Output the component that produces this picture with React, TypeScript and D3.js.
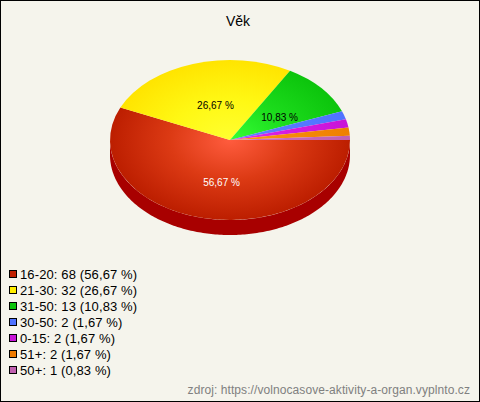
import React, { useRef, useEffect } from "react";
import * as d3 from "d3";

const title = "Věk";
const source = "zdroj: https://volnocasove-aktivity-a-organ.vyplnto.cz";
const categories = ["16-20", "21-30", "31-50", "30-50", "0-15", "51+", "50+"];
const counts = [68, 32, 13, 2, 2, 2, 1];
const percents = ["56,67 %", "26,67 %", "10,83 %", "1,67 %", "1,67 %", "1,67 %", "0,83 %"];
const legendColors = ["#c02000", "#ffee00", "#0cc40c", "#4f72ff", "#c814d8", "#ee7a00", "#c060b0"];
const innerColors = ["#ff5c3e", "#ffff30", "#35ff35", "#5f84ff", "#e428f0", "#ff9a14", "#d078c4"];
const midColors = ["#dc3a14", "#fff814", "#1cdc1c", "#567aff", "#d41ce0", "#f68a0a", "#c868ba"];
const outerColors = ["#bc1e00", "#ffe400", "#0cc40c", "#4f72ff", "#c814d8", "#ee8000", "#c060b0"];
const labelColors = ["#ffffff", "#000000", "#000000"];

const App: React.FC = () => {
  const svgRef = useRef<SVGSVGElement>(null);

  useEffect(() => {
    if (!svgRef.current) return;

    const svg = d3.select(svgRef.current);
    svg.selectAll("*").remove();

    const width = 480;
    const height = 402;
    const cx = 230;
    const cy = 140;
    const rx = 120;
    const ry = 80;
    const depth = 15;
    const font = "'Liberation Sans', Arial, sans-serif";

    svg.append("rect")
      .attr("x", 0.5)
      .attr("y", 0.5)
      .attr("width", width - 1)
      .attr("height", height - 1)
      .attr("fill", "#f5f4ec")
      .attr("stroke", "#000");

    svg.append("text")
      .attr("x", 238)
      .attr("y", 26)
      .attr("text-anchor", "middle")
      .attr("font-family", font)
      .attr("font-size", 14)
      .text(title);

    // side wall, only the front half shows
    const wall = d3.area<number>()
      .x((a) => cx + rx * Math.cos(a))
      .y0((a) => cy + ry * Math.sin(a))
      .y1((a) => cy + ry * Math.sin(a) + depth);

    svg.append("path")
      .attr("fill", "#a80000")
      .attr("d", wall(d3.range(0, 181).map((d) => (d * Math.PI) / 180)));

    const defs = svg.append("defs");
    categories.forEach((_, i) => {
      const grad = defs.append("radialGradient")
        .attr("id", `slice${i}`)
        .attr("gradientUnits", "userSpaceOnUse")
        .attr("cx", 0)
        .attr("cy", 0)
        .attr("r", rx);
      grad.append("stop").attr("offset", 0).attr("stop-color", innerColors[i]);
      grad.append("stop").attr("offset", 0.5).attr("stop-color", midColors[i]);
      grad.append("stop").attr("offset", 1).attr("stop-color", outerColors[i]);
    });

    const pie = d3.pie<number>()
      .sort(null)
      .startAngle(Math.PI / 2)
      .endAngle(Math.PI / 2 + 2 * Math.PI);
    const arcs = pie(counts);
    const arc = d3.arc<d3.PieArcDatum<number>>().innerRadius(0).outerRadius(rx);

    svg.append("g")
      .attr("transform", `translate(${cx}, ${cy}) scale(1, ${ry / rx})`)
      .selectAll("path")
      .data(arcs)
      .join("path")
      .attr("fill", (_, i) => `url(#slice${i})`)
      .attr("d", arc);

    // only the three big slices carry a label
    svg.append("g")
      .selectAll("text")
      .data(arcs.slice(0, 3))
      .join("text")
      .attr("x", (d) => cx + arc.centroid(d)[0] + 4)
      .attr("y", (d) => cy + (arc.centroid(d)[1] * ry) / rx + 7)
      .attr("text-anchor", "middle")
      .attr("font-family", font)
      .attr("font-size", 10)
      .attr("fill", (_, i) => labelColors[i])
      .text((_, i) => percents[i]);

    const legendY = d3.scalePoint<string>()
      .domain(categories)
      .range([274, 370]);

    const legend = svg.append("g")
      .selectAll("g")
      .data(categories)
      .join("g")
      .attr("transform", (d) => `translate(9, ${legendY(d)})`);

    legend.append("rect")
      .attr("x", 0.5)
      .attr("y", -3.5)
      .attr("width", 7)
      .attr("height", 7)
      .attr("fill", (_, i) => legendColors[i])
      .attr("stroke", "#000");

    legend.append("text")
      .attr("x", 11)
      .attr("y", 4.5)
      .attr("font-family", font)
      .attr("font-size", 13)
      .attr("letter-spacing", 0.12)
      .text((d, i) => `${d}: ${counts[i]} (${percents[i]})`);

    svg.append("text")
      .attr("x", 470)
      .attr("y", 394)
      .attr("text-anchor", "end")
      .attr("font-family", font)
      .attr("font-size", 12)
      .attr("letter-spacing", 0.08)
      .attr("fill", "#808080")
      .text(source);

    return () => {
      svg.selectAll("*").remove();
    };
  }, []);

  return (
    <svg
      ref={svgRef}
      width={480}
      height={402}
      style={{ position: "absolute", left: 0, top: 0, display: "block" }}
    ></svg>
  );
};

export default App;
